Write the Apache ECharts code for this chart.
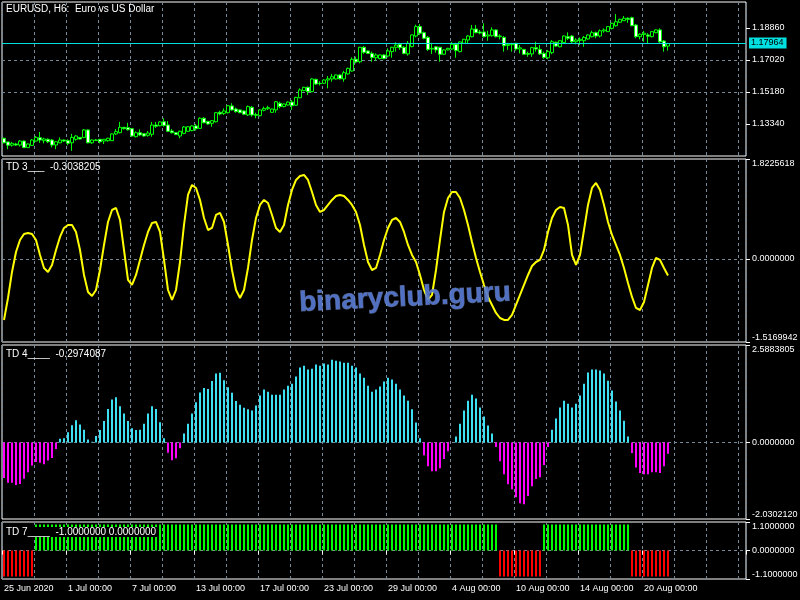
<!DOCTYPE html>
<html><head><meta charset="utf-8">
<script src="https://cdn.jsdelivr.net/npm/echarts@6/dist/echarts.min.js"></script>
<style>html,body{margin:0;padding:0;background:#000;}#c{width:800px;height:600px;}</style>
</head><body><div id="c"></div>
<script>
const xTickLabels = ["25 Jun 2020","1 Jul 00:00","7 Jul 00:00","13 Jul 00:00","17 Jul 00:00","23 Jul 00:00","29 Jul 00:00","4 Aug 00:00","10 Aug 00:00","14 Aug 00:00","20 Aug 00:00"];
const barsPerTick = 16;
const totalSlots = 186;

const open = [1.1252,1.1231,1.1212,1.1219,1.1213,1.1236,1.1198,1.1211,1.1236,1.1255,1.1238,1.1246,1.1242,1.1213,1.1226,1.1242,1.1238,1.1226,1.1246,1.1257,
1.1257,1.1300,1.1226,1.1242,1.1246,1.1236,1.1238,1.1238,1.1277,1.1284,1.1315,1.1313,1.1307,1.1261,1.1284,1.1278,1.1269,1.1275,1.1328,1.1324,
1.1347,1.1328,1.1294,1.1284,1.1265,1.1280,1.1292,1.1296,1.1323,1.1309,1.1367,1.1349,1.1338,1.1347,1.1401,1.1395,1.1399,1.1438,1.1420,1.1415,
1.1409,1.1386,1.1430,1.1388,1.1382,1.1413,1.1422,1.1401,1.1415,1.1453,1.1434,1.1443,1.1460,1.1442,1.1485,1.1526,1.1545,1.1520,1.1591,1.1568,
1.1568,1.1587,1.1593,1.1593,1.1616,1.1593,1.1622,1.1639,1.1706,1.1692,1.1775,1.1754,1.1740,1.1715,1.1710,1.1731,1.1725,1.1750,1.1775,1.1792,
1.1775,1.1737,1.1779,1.1840,1.1894,1.1859,1.1832,1.1765,1.1778,1.1775,1.1735,1.1760,1.1765,1.1792,1.1750,1.1798,1.1817,1.1836,1.1880,1.1863,
1.1863,1.1840,1.1842,1.1875,1.1836,1.1832,1.1786,1.1790,1.1798,1.1765,1.1763,1.1740,1.1737,1.1773,1.1763,1.1740,1.1715,1.1744,1.1804,1.1778,
1.1802,1.1836,1.1840,1.1807,1.1815,1.1813,1.1823,1.1836,1.1859,1.1840,1.1869,1.1865,1.1884,1.1899,1.1919,1.1928,1.1942,1.1945,1.1903,1.1836,
1.1849,1.1846,1.1836,1.1859,1.1875,1.1811,1.1782];
const close = [1.1226,1.1212,1.1223,1.1213,1.1236,1.1198,1.1219,1.1242,1.1257,1.1242,1.1248,1.1232,1.1213,1.1232,1.1242,1.1236,1.1223,1.1257,1.1265,1.1248,
1.1300,1.1226,1.1242,1.1240,1.1232,1.1246,1.1252,1.1277,1.1290,1.1315,1.1307,1.1301,1.1265,1.1284,1.1271,1.1265,1.1282,1.1328,1.1321,1.1346,
1.1326,1.1292,1.1284,1.1273,1.1292,1.1317,1.1318,1.1323,1.1307,1.1367,1.1341,1.1334,1.1353,1.1399,1.1392,1.1409,1.1439,1.1415,1.1405,1.1399,
1.1390,1.1434,1.1386,1.1384,1.1415,1.1424,1.1428,1.1420,1.1462,1.1434,1.1449,1.1460,1.1439,1.1487,1.1530,1.1545,1.1520,1.1593,1.1564,1.1566,
1.1587,1.1594,1.1606,1.1616,1.1594,1.1629,1.1654,1.1706,1.1691,1.1775,1.1746,1.1740,1.1717,1.1731,1.1731,1.1710,1.1754,1.1775,1.1788,1.1773,
1.1740,1.1798,1.1846,1.1894,1.1856,1.1827,1.1763,1.1769,1.1760,1.1735,1.1760,1.1769,1.1792,1.1756,1.1806,1.1821,1.1840,1.1880,1.1859,1.1857,
1.1836,1.1846,1.1875,1.1836,1.1840,1.1784,1.1792,1.1794,1.1765,1.1772,1.1735,1.1735,1.1773,1.1765,1.1737,1.1717,1.1750,1.1807,1.1782,1.1813,
1.1840,1.1827,1.1807,1.1817,1.1821,1.1832,1.1846,1.1859,1.1840,1.1870,1.1875,1.1894,1.1913,1.1922,1.1936,1.1942,1.1936,1.1899,1.1836,1.1850,
1.1856,1.1839,1.1865,1.1875,1.1807,1.1778,1.17964];
const low = [1.1223,1.1189,1.1204,1.1208,1.1204,1.1196,1.1196,1.1208,1.1232,1.1226,1.1223,1.1225,1.1200,1.1189,1.1223,1.1230,1.1212,1.1180,1.1238,1.1246,
1.1252,1.1223,1.1220,1.1236,1.1223,1.1219,1.1232,1.1236,1.1271,1.1280,1.1303,1.1296,1.1261,1.1257,1.1265,1.1261,1.1261,1.1261,1.1311,1.1321,
1.1318,1.1288,1.1280,1.1271,1.1252,1.1275,1.1288,1.1292,1.1296,1.1305,1.1338,1.1330,1.1318,1.1343,1.1384,1.1386,1.1395,1.1411,1.1399,1.1396,
1.1386,1.1380,1.1376,1.1367,1.1378,1.1407,1.1415,1.1399,1.1399,1.1424,1.1430,1.1440,1.1415,1.1438,1.1482,1.1522,1.1501,1.1516,1.1558,1.1556,
1.1564,1.1539,1.1577,1.1590,1.1590,1.1577,1.1618,1.1635,1.1683,1.1683,1.1737,1.1737,1.1692,1.1698,1.1706,1.1706,1.1717,1.1715,1.1750,1.1760,
1.1735,1.1727,1.1775,1.1832,1.1846,1.1821,1.1754,1.1737,1.1744,1.1692,1.1731,1.1757,1.1760,1.1715,1.1746,1.1795,1.1798,1.1832,1.1856,1.1850,
1.1832,1.1813,1.1836,1.1832,1.1821,1.1750,1.1760,1.1750,1.1756,1.1740,1.1731,1.1721,1.1721,1.1750,1.1731,1.1708,1.1706,1.1735,1.1778,1.1775,
1.1798,1.1817,1.1798,1.1792,1.1788,1.1778,1.1819,1.1832,1.1827,1.1832,1.1859,1.1863,1.1878,1.1894,1.1915,1.1927,1.1916,1.1897,1.1827,1.1821,
1.1807,1.1798,1.1832,1.1856,1.1801,1.1750,1.1756];
const high = [1.1255,1.1232,1.1231,1.1226,1.1242,1.1238,1.1222,1.1248,1.1265,1.1288,1.1255,1.1251,1.1248,1.1236,1.1257,1.1245,1.1246,1.1277,1.1269,1.1259,
1.1305,1.1302,1.1245,1.1248,1.1248,1.1248,1.1255,1.1280,1.1305,1.1346,1.1317,1.1341,1.1311,1.1292,1.1303,1.1282,1.1294,1.1346,1.1346,1.1349,
1.1367,1.1351,1.1305,1.1286,1.1296,1.1322,1.1322,1.1326,1.1334,1.1372,1.1373,1.1352,1.1357,1.1403,1.1410,1.1424,1.1443,1.1453,1.1428,1.1418,
1.1412,1.1440,1.1438,1.1399,1.1418,1.1434,1.1439,1.1422,1.1466,1.1462,1.1452,1.1464,1.1472,1.1490,1.1539,1.1548,1.1549,1.1597,1.1594,1.1580,
1.1591,1.1610,1.1622,1.1618,1.1619,1.1639,1.1658,1.1717,1.1721,1.1778,1.1782,1.1757,1.1750,1.1740,1.1734,1.1734,1.1769,1.1778,1.1804,1.1801,
1.1782,1.1811,1.1849,1.1905,1.1909,1.1865,1.1840,1.1801,1.1782,1.1778,1.1763,1.1772,1.1806,1.1801,1.1809,1.1824,1.1846,1.1903,1.1903,1.1875,
1.1913,1.1870,1.1890,1.1878,1.1850,1.1840,1.1801,1.1801,1.1801,1.1788,1.1766,1.1750,1.1778,1.1807,1.1788,1.1750,1.1760,1.1817,1.1807,1.1816,
1.1843,1.1861,1.1846,1.1827,1.1832,1.1840,1.1849,1.1870,1.1865,1.1878,1.1884,1.1897,1.1916,1.1966,1.1939,1.1955,1.1947,1.1951,1.1909,1.1856,
1.1869,1.1856,1.1868,1.1878,1.1884,1.1817,1.1801];
const currentPrice = 1.17964;
const priceTicks = [1.13340, 1.15180, 1.17020, 1.18860];

const td3 = [-1.115,-0.714,-0.239,0.126,0.345,0.454,0.473,0.454,0.345,0.071,-0.166,-0.239,-0.111,0.162,0.400,0.564,0.619,0.619,0.491,0.162,
-0.294,-0.604,-0.677,-0.568,-0.203,0.254,0.673,0.892,0.929,0.710,0.162,-0.385,-0.476,-0.294,-0.020,0.254,0.491,0.655,0.673,0.491,
-0.020,-0.568,-0.750,-0.568,-0.057,0.619,1.166,1.349,1.294,1.075,0.746,0.527,0.564,0.801,0.838,0.673,0.254,-0.203,-0.568,-0.714,
-0.568,-0.166,0.345,0.746,0.984,1.075,1.020,0.801,0.564,0.491,0.619,0.984,1.257,1.440,1.513,1.531,1.440,1.221,0.984,0.856,
0.892,0.984,1.075,1.148,1.166,1.148,1.075,0.984,0.856,0.619,0.254,-0.057,-0.203,-0.166,0.071,0.345,0.564,0.710,0.746,0.673,
0.491,0.254,0.071,-0.057,-0.294,-0.568,-0.750,-0.659,-0.203,0.345,0.856,1.111,1.221,1.221,1.111,0.892,0.619,0.308,0.016,-0.239,
-0.476,-0.695,-0.841,-0.987,-1.079,-1.115,-1.115,-1.024,-0.841,-0.659,-0.476,-0.294,-0.130,-0.057,-0.020,0.162,0.491,0.746,0.892,0.947,
0.929,0.619,0.071,-0.111,0.071,0.527,0.984,1.294,1.385,1.257,0.984,0.673,0.436,0.254,0.071,-0.166,-0.440,-0.695,-0.896,-0.933,
-0.787,-0.476,-0.166,0.016,-0.020,-0.166,-0.3038205];
const td3Range = [-1.5169942, 1.8225618];

const td4 = [-0.94,-1.07,-1.07,-1.13,-1.10,-0.96,-0.79,-0.61,-0.52,-0.54,-0.58,-0.48,-0.41,-0.17,0.10,0.11,0.27,0.46,0.59,0.48,
0.34,0.08,0.02,0.17,0.33,0.57,0.89,1.14,1.20,0.96,0.77,0.57,0.38,0.33,0.34,0.50,0.77,0.96,0.89,0.54,
0.11,-0.27,-0.47,-0.42,-0.15,0.24,0.50,0.77,1.07,1.33,1.45,1.42,1.63,1.83,1.85,1.65,1.47,1.32,1.10,1.00,
0.92,0.88,0.85,0.98,1.25,1.41,1.35,1.27,1.27,1.27,1.41,1.51,1.56,1.75,1.99,2.04,1.94,1.96,2.07,2.04,
2.10,2.07,2.20,2.17,2.15,2.12,2.12,2.04,1.99,1.83,1.72,1.51,1.35,1.41,1.49,1.62,1.72,1.67,1.56,1.41,
1.25,1.11,0.88,0.53,0.11,-0.34,-0.63,-0.76,-0.76,-0.68,-0.44,-0.23,0.00,0.16,0.50,0.85,1.11,1.27,1.17,0.93,
0.69,0.45,0.24,-0.12,-0.50,-0.84,-1.11,-1.24,-1.45,-1.61,-1.64,-1.42,-1.16,-0.97,-0.92,-0.60,-0.12,0.34,0.64,0.93,
1.11,1.03,0.93,1.03,1.25,1.56,1.86,1.94,1.94,1.91,1.83,1.64,1.38,1.09,0.85,0.58,0.16,-0.28,-0.66,-0.81,
-0.84,-0.84,-0.79,-0.79,-0.81,-0.63,-0.2974087];
const td4Range = [-2.0302120, 2.5883805];

const td7 = [-1,-1,-1,-1,-1,-1,-1,-1,1,1,1,1,1,1,1,1,1,1,1,1,
1,1,1,1,1,1,1,1,1,1,1,1,1,1,1,1,1,1,1,1,
1,1,1,1,1,1,1,1,1,1,1,1,1,1,1,1,1,1,1,1,
1,1,1,1,1,1,1,1,1,1,1,1,1,1,1,1,1,1,1,1,
1,1,1,1,1,1,1,1,1,1,1,1,1,1,1,1,1,1,1,1,
1,1,1,1,1,1,1,1,1,1,1,1,1,1,1,1,1,1,1,1,
1,1,1,1,-1,-1,-1,-1,-1,-1,-1,-1,-1,-1,-1,1,1,1,1,1,
1,1,1,1,1,1,1,1,1,1,1,1,1,1,1,1,1,-1,-1,-1,
-1,-1,-1,-1,-1,-1,-1];
const td7Range = [-1.1, 1.1];

const categories = Array.from({length: totalSlots}, (_, i) =>
  (i % barsPerTick === 0 && xTickLabels[i / barsPerTick]) ? xTickLabels[i / barsPerTick] : String(i));
const isTick = (idx) => idx % barsPerTick === 0 && idx / barsPerTick < xTickLabels.length;

const candles = open.map((o, i) => [o, close[i], low[i], high[i]]);

const FONT = '"Liberation Sans", Arial, sans-serif';
const gridColor = '#778899';
const panes = [
  {top: 2, height: 154},
  {top: 159, height: 183},
  {top: 345, height: 174},
  {top: 522, height: 57}
];

const grids = panes.map(p => ({left: 2, width: 744, top: p.top, height: p.height, show: true,
  borderColor: '#ffffff', borderWidth: 1, backgroundColor: 'transparent', containLabel: false, outerBoundsMode: 'none'}));

const xAxes = panes.map((p, k) => ({
  type: 'category', gridIndex: k, data: categories, boundaryGap: true,
  axisLine: {show: false},
  axisTick: k === 3 ? {show: true, interval: (idx) => isTick(idx), length: 4, lineStyle: {color: '#fff'}} : {show: false},
  axisLabel: k === 3 ? {show: true, interval: (idx) => isTick(idx), color: '#fff', fontSize: 9, fontFamily: FONT,
    align: 'left', margin: 5, hideOverlap: false} : {show: false},
  splitLine: {show: true, interval: 7, lineStyle: {color: gridColor, type: [3, 3], width: 1}}
}));

function sideAxis(k, min, max, labels, digits) {
  return {
    type: 'value', gridIndex: k, position: 'right', min: min, max: max, scale: true,
    axisLine: {show: false},
    axisTick: {show: true, customValues: labels, length: 4, lineStyle: {color: '#fff'}},
    axisLabel: {show: true, customValues: labels, color: '#fff', fontSize: 9, fontFamily: FONT, margin: 6,
      formatter: (v) => v.toFixed(digits), showMinLabel: true, showMaxLabel: true,
      verticalAlignMinLabel: 'bottom', verticalAlignMaxLabel: 'top', hideOverlap: false},
    splitLine: {show: true, showMinLine: false, showMaxLine: false, lineStyle: {color: gridColor, type: [3, 3], width: 1}}
  };
}

const yAxes = [
  sideAxis(0, 1.11500, 1.20355, priceTicks, 5),
  sideAxis(1, td3Range[0], td3Range[1], [td3Range[0], 0, td3Range[1]], 7),
  sideAxis(2, td4Range[0], td4Range[1], [td4Range[0], 0, td4Range[1]], 7),
  sideAxis(3, td7Range[0], td7Range[1], [td7Range[0], 0, td7Range[1]], 7)
];
yAxes[0].axisLabel.verticalAlignMinLabel = 'middle';
yAxes[0].axisLabel.verticalAlignMaxLabel = 'middle';

const txt = (text, left, top, extra) => Object.assign({type: 'text', left: left, top: top, z: 100,
  style: Object.assign({text: text, fill: '#fff', font: '10px ' + FONT}, extra || {})});

const option = {
  backgroundColor: '#000',
  animation: false,
  grid: grids,
  xAxis: xAxes,
  yAxis: yAxes,
  graphic: [
    txt('EURUSD, H6:  Euro vs US Dollar', 6, 4),
    txt('TD 3___  -0.3038205', 6, 162),
    txt('TD 4____  -0.2974087', 6, 349),
    txt('TD 7____  -1.0000000 0.0000000', 6, 527, {backgroundColor: '#000', padding: [0, 2, 0, 0]}),
    {type: 'text', x: 405, y: 298, rotation: 0.05, z: 120,
      style: {text: 'binaryclub.guru', fill: 'rgba(88,122,210,0.92)', stroke: 'rgba(150,175,235,0.5)', lineWidth: 1,
        font: 'bold 28px ' + FONT, align: 'center', verticalAlign: 'middle'}}
  ],
  series: [
    {type: 'candlestick', xAxisIndex: 0, yAxisIndex: 0, data: candles, barWidth: 3,
      itemStyle: {color: '#000', color0: '#fff', borderColor: '#00ff00', borderColor0: '#00ff00', borderColorDoji: '#00ff00', borderWidth: 1},
      markLine: {silent: true, symbol: 'none', animation: false,
        data: [{yAxis: currentPrice}],
        lineStyle: {color: '#00e0e0', type: 'solid', width: 1},
        label: {show: true, position: 'end', distance: 3, formatter: () => currentPrice.toFixed(5),
          backgroundColor: '#00e0e0', color: '#000', fontSize: 9, fontFamily: FONT, padding: [1, 3, 1, 2]}}
    },
    {type: 'line', xAxisIndex: 1, yAxisIndex: 1, data: td3, showSymbol: false, symbol: 'none',
      lineStyle: {color: '#ffff00', width: 2}, itemStyle: {color: '#ffff00'}},
    {type: 'bar', xAxisIndex: 2, yAxisIndex: 2, data: td4, barWidth: 2,
      itemStyle: {color: (p) => p.value >= 0 ? '#3ee0f4' : '#ff00ff'}},
    {type: 'bar', xAxisIndex: 3, yAxisIndex: 3, data: td7, barWidth: 2,
      itemStyle: {color: (p) => p.value >= 0 ? '#00ff00' : '#ff0000'}}
  ]
};

const chart = echarts.init(document.getElementById('c'), null, {renderer: 'canvas'});
chart.setOption(option);
</script>
</body></html>
